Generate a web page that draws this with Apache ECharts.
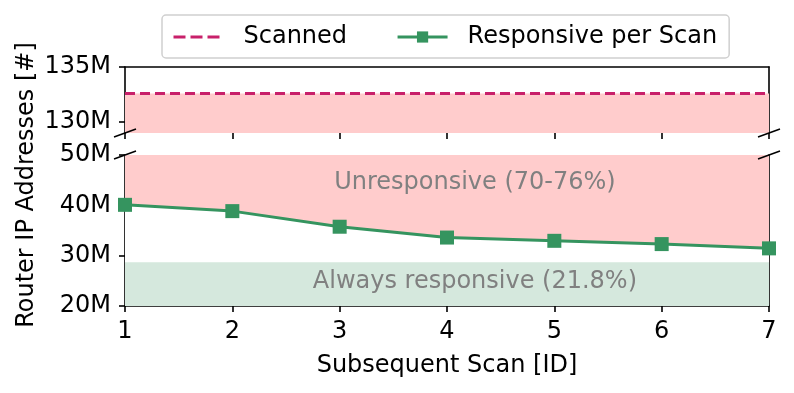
<!DOCTYPE html>
<html>
<head>
<meta charset="utf-8">
<script src="https://cdn.jsdelivr.net/npm/echarts@6/dist/echarts.min.js"></script>
<style>
  html, body { margin: 0; padding: 0; background: #fff; }
  #main { width: 794px; height: 393px; }
</style>
</head>
<body>
<div id="main"></div>
<script>
// data (million addresses)
const scanIds = [1, 2, 3, 4, 5, 6, 7];
const responsive = [40.1, 38.85, 35.75, 33.6, 32.95, 32.3, 31.45];
const scanned = 132.6;
const alwaysResponsive = 28.7;
const topTicks = [130, 135];
const bottomTicks = [20, 30, 40, 50];

const font = 'DejaVu Sans';
const fs = 24;
const green = '#35945f';
const crimson = '#c8206a';
const redFill = '#ffcccc';
const greenFill = '#d5e8dd';

// plot box
const L = 125, R = 25;
const topGrid = { left: L, right: R, top: 67, height: 66 };
const botGrid = { left: L, right: R, top: 155, height: 151 };

const chart = echarts.init(document.getElementById('main'));

const spineOnly = {
  axisLine: { show: true, lineStyle: { color: '#000', width: 1.6 } },
  axisTick: { show: false }, axisLabel: { show: false }, splitLine: { show: false }
};
const tickStyle = { color: '#000', width: 1.6 };

let option = {
  animation: false,
  textStyle: { fontFamily: font },
  legend: {
    data: [
      { name: 'Scanned', itemStyle: { opacity: 0 }, lineStyle: { width: 3, type: [12, 5] } },
      { name: 'Responsive per Scan', lineStyle: { width: 3 } }
    ],
    left: 162, top: 15,
    padding: [10, 12, 9, 10],
    itemGap: 49, itemWidth: 50, itemHeight: 14,
    borderColor: '#d0d0d0', borderWidth: 1.5, borderRadius: 4,
    textStyle: { fontFamily: font, fontSize: fs, color: '#000', padding: [0, 0, 0, 15] }
  },
  grid: [topGrid, botGrid],
  xAxis: [
    { gridIndex: 0, type: 'value', min: 1, max: 7, interval: 1, position: 'bottom',
      axisLine: { show: false }, axisLabel: { show: false }, splitLine: { show: false },
      axisTick: { show: true, length: 6, lineStyle: tickStyle } },
    Object.assign({ gridIndex: 0, type: 'value', min: 1, max: 7, position: 'top' }, spineOnly),
    { gridIndex: 1, type: 'value', min: 1, max: 7, interval: 1, position: 'bottom',
      name: 'Subsequent Scan [ID]', nameLocation: 'middle', nameGap: 48,
      nameTextStyle: { fontFamily: font, fontSize: fs, color: '#000' },
      axisLine: { show: true, lineStyle: tickStyle },
      axisTick: { show: true, length: 6, lineStyle: tickStyle },
      axisLabel: { margin: 14, fontFamily: font, fontSize: fs, color: '#000' },
      splitLine: { show: false } }
  ],
  yAxis: [
    { gridIndex: 0, type: 'value', min: 129, max: 135, position: 'left',
      axisLine: { show: true, lineStyle: tickStyle },
      axisTick: { show: true, length: 6, customValues: topTicks, lineStyle: tickStyle },
      axisLabel: { customValues: topTicks, margin: 14, fontFamily: font, fontSize: fs, color: '#000',
                   formatter: v => v + 'M' },
      splitLine: { show: false } },
    Object.assign({ gridIndex: 0, type: 'value', min: 129, max: 135, position: 'right' }, spineOnly),
    { gridIndex: 1, type: 'value', min: 20, max: 50, interval: 10, position: 'left',
      axisLine: { show: true, lineStyle: tickStyle },
      axisTick: { show: true, length: 6, customValues: bottomTicks, lineStyle: tickStyle },
      axisLabel: { customValues: bottomTicks, margin: 14, fontFamily: font, fontSize: fs, color: '#000',
                   formatter: v => v + 'M' },
      splitLine: { show: false } },
    Object.assign({ gridIndex: 1, type: 'value', min: 20, max: 50, position: 'right' }, spineOnly)
  ],
  series: [
    {
      name: 'Scanned', type: 'line', xAxisIndex: 0, yAxisIndex: 0,
      data: [[scanIds[0], scanned], [scanIds[scanIds.length - 1], scanned]],
      symbol: 'none', z: 3,
      lineStyle: { color: crimson, width: 3, type: [10, 5] },
      itemStyle: { color: crimson },
      areaStyle: { color: redFill, opacity: 1, origin: 'start' }
    },
    {
      // unresponsive band: scanned level (clipped at the axis top) down to the axis floor
      name: 'scannedLow', type: 'line', xAxisIndex: 2, yAxisIndex: 2,
      data: [[scanIds[0], scanned], [scanIds[scanIds.length - 1], scanned]],
      symbol: 'none', silent: true, z: 1,
      lineStyle: { width: 0 },
      areaStyle: { color: redFill, opacity: 1, origin: 'start' }
    },
    {
      name: 'Responsive per Scan', type: 'line', xAxisIndex: 2, yAxisIndex: 2,
      z: 2,
      data: scanIds.map((x, i) => [x, responsive[i]]),
      symbol: 'rect', symbolSize: 14,
      lineStyle: { color: green, width: 3 },
      itemStyle: { color: green },
      areaStyle: { color: '#fff', opacity: 1, origin: 'start' }
    },
    {
      name: 'alwaysBand', type: 'line', xAxisIndex: 2, yAxisIndex: 2,
      data: [[scanIds[0], alwaysResponsive], [scanIds[scanIds.length - 1], alwaysResponsive]],
      symbol: 'none', silent: true, z: 3,
      lineStyle: { width: 0 },
      areaStyle: { color: greenFill, opacity: 1, origin: 'start' }
    }
  ]
};
chart.setOption(option);

// annotations and axis break marks
const unresp = chart.convertToPixel({ gridIndex: 1 }, [4.26, 44.4]);
const always = chart.convertToPixel({ gridIndex: 1 }, [4.26, 24.75]);
const topBottomY = topGrid.top + topGrid.height;
const botTopY = botGrid.top;
const rightX = 794 - R;
const brk = (x, y) => ({
  type: 'line', z: 100,
  shape: { x1: x - 11, y1: y + 4, x2: x + 11, y2: y - 4 },
  style: { stroke: '#000', lineWidth: 1.6 }
});
const txtFont = fs + 'px "' + font + '"';
chart.setOption({
  graphic: [
    { type: 'text', x: unresp[0], y: unresp[1], z: 50,
      style: { text: 'Unresponsive (70-76%)', fill: '#808080', font: txtFont,
               textAlign: 'center', textVerticalAlign: 'middle' } },
    { type: 'text', x: always[0], y: always[1], z: 50,
      style: { text: 'Always responsive (21.8%)', fill: '#808080', font: txtFont,
               textAlign: 'center', textVerticalAlign: 'middle' } },
    { type: 'text', x: 27, y: 185, rotation: Math.PI / 2, z: 50,
      style: { text: 'Router IP Addresses [#]', fill: '#000', font: txtFont,
               textAlign: 'center', textVerticalAlign: 'middle' } },
    brk(L, topBottomY), brk(rightX, topBottomY),
    brk(L, botTopY), brk(rightX, botTopY)
  ]
});
</script>
</body>
</html>
